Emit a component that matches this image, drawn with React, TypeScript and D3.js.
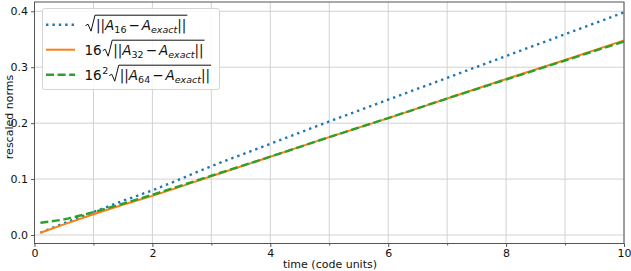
import React, { useEffect, useRef } from 'react';
import * as d3 from 'd3';

// sample times (code units)
const times = [0.1, 0.5, 1, 1.5, 2, 3, 4, 5, 6, 7, 8, 9, 10];
// rescaled norms
const normA16 = [0.004, 0.021, 0.041, 0.061, 0.080, 0.123, 0.163, 0.203, 0.242, 0.281, 0.320, 0.359, 0.398];
const normA32 = [0.004, 0.019, 0.037, 0.054, 0.070, 0.105, 0.140, 0.175, 0.209, 0.244, 0.279, 0.313, 0.348];
const normA64 = [0.022, 0.028, 0.041, 0.056, 0.072, 0.106, 0.140, 0.175, 0.209, 0.244, 0.278, 0.312, 0.346];

const xTicks = [0, 2, 4, 6, 8, 10];
const xMinorTicks = [1, 3, 5, 7, 9];
const yTicks = [0, 0.1, 0.2, 0.3, 0.4];

const series = [
  { key: 'A16', prefix: '', sup: '', sub: '16', values: normA16, color: '#1f77b4', dash: '2.4 4' },
  { key: 'A32', prefix: '16', sup: '', sub: '32', values: normA32, color: '#ff7f0e', dash: '' },
  { key: 'A64', prefix: '16', sup: '2', sub: '64', values: normA64, color: '#2ca02c', dash: '8 3.6' },
];

const FONT = "'DejaVu Sans', sans-serif";

const App: React.FC = () => {
  const svgRef = useRef<SVGSVGElement>(null);

  useEffect(() => {
    if (!svgRef.current) return;
    const svg = d3.select(svgRef.current);
    svg.selectAll('*').remove();

    const left = 34.5, right = 624, top = 2, bottom = 243.5;
    const x = d3.scaleLinear().domain([0, 10]).range([left, right]);
    const y = d3.scaleLinear().domain([-0.0152, 0.4166]).range([bottom, top]);

    // grid
    const grid = svg.append('g');
    grid.selectAll('line.v')
      .data([...xTicks, ...xMinorTicks])
      .enter().append('line')
      .attr('x1', d => x(d)).attr('x2', d => x(d))
      .attr('y1', top).attr('y2', bottom)
      .attr('stroke', '#d2d2d2').attr('stroke-width', 1);
    grid.selectAll('line.h')
      .data(yTicks)
      .enter().append('line')
      .attr('x1', left).attr('x2', right)
      .attr('y1', d => y(d)).attr('y2', d => y(d))
      .attr('stroke', '#d2d2d2').attr('stroke-width', 1);

    // lines
    const line = d3.line<number>()
      .x((_, i) => x(times[i]))
      .y(d => y(d))
      .curve(d3.curveMonotoneX);

    series.forEach(s => {
      svg.append('path')
        .datum(s.values)
        .attr('d', line)
        .attr('fill', 'none')
        .attr('stroke', s.color)
        .attr('stroke-width', s.dash === '' ? 2 : 2.4)
        .attr('stroke-dasharray', s.dash || null);
    });

    // spines
    svg.append('rect')
      .attr('x', left).attr('y', top)
      .attr('width', right - left).attr('height', bottom - top)
      .attr('fill', 'none').attr('stroke', '#555').attr('stroke-width', 1);

    // x axis
    const xAxis = svg.append('g')
      .attr('transform', `translate(0,${bottom})`)
      .call(d3.axisBottom(x).tickValues(xTicks).tickSize(3.5).tickPadding(2.5).tickFormat(d3.format('d')));
    xAxis.select('.domain').remove();
    xAxis.selectAll('line').attr('stroke', '#555');
    xAxis.selectAll('text').style('font-family', FONT).style('font-size', '11px').attr('fill', '#111');
    const xMinor = svg.append('g')
      .attr('transform', `translate(0,${bottom})`)
      .call(d3.axisBottom(x).tickValues(xMinorTicks).tickSize(2).tickFormat(() => ''));
    xMinor.select('.domain').remove();
    xMinor.selectAll('line').attr('stroke', '#555');

    // y axis
    const yAxis = svg.append('g')
      .attr('transform', `translate(${left},0)`)
      .call(d3.axisLeft(y).tickValues(yTicks).tickSize(3.5).tickPadding(3).tickFormat(d3.format('.1f')));
    yAxis.select('.domain').remove();
    yAxis.selectAll('line').attr('stroke', '#555');
    yAxis.selectAll('text').style('font-family', FONT).style('font-size', '11px').attr('fill', '#111');

    // axis labels
    svg.append('text')
      .attr('x', 330).attr('y', 267.5)
      .attr('text-anchor', 'middle')
      .style('font-family', FONT).style('font-size', '11px').attr('fill', '#111')
      .text('time (code units)');
    svg.append('text')
      .attr('transform', `translate(12.5,117) rotate(-90)`)
      .attr('text-anchor', 'middle')
      .style('font-family', FONT).style('font-size', '11px').attr('fill', '#111')
      .text('rescaled norms');

    // legend
    const legend = svg.append('g');
    legend.append('rect')
      .attr('x', 42.5).attr('y', 8.5).attr('width', 177).attr('height', 81)
      .attr('rx', 2)
      .attr('fill', 'white').attr('fill-opacity', 0.85)
      .attr('stroke', '#d5d5d5');

    series.forEach((s, i) => {
      const cy = 24.7 + i * 25;
      legend.append('line')
        .attr('x1', 46).attr('x2', 75).attr('y1', cy).attr('y2', cy)
        .attr('stroke', s.color)
        .attr('stroke-width', s.dash === '' ? 2 : 2.4)
        .attr('stroke-dasharray', s.dash || null);

      const base = cy + 5;
      let cx = 84.5;
      const g = legend.append('g').style('font-family', FONT).attr('fill', '#111');
      if (s.prefix) {
        const t = g.append('text').attr('x', cx).attr('y', base).style('font-size', '13.5px').text(s.prefix);
        cx += (t.node() as SVGTextElement).getComputedTextLength();
        if (s.sup) {
          const sp = g.append('text').attr('x', cx + 0.5).attr('y', base - 6).style('font-size', '9.5px').text(s.sup);
          cx += (sp.node() as SVGTextElement).getComputedTextLength() + 0.5;
        }
      }
      // radical sign
      const rx0 = cx + 1;
      const topY = cy - 9.5;
      const content = g.append('text').attr('x', rx0 + 10.5).attr('y', base).style('font-size', '13.5px');
      content.append('tspan').text('||');
      content.append('tspan').style('font-style', 'italic').text('A');
      content.append('tspan').attr('dy', 3).style('font-size', '9.5px').text(s.sub);
      content.append('tspan').attr('dy', -3).attr('dx', 2).text('−');
      content.append('tspan').attr('dx', 2).style('font-style', 'italic').text('A');
      content.append('tspan').attr('dy', 3).style('font-size', '9.5px').style('font-style', 'italic').text('exact');
      content.append('tspan').attr('dy', -3).text('||');
      const w = (content.node() as SVGTextElement).getComputedTextLength() + 4;
      g.append('path')
        .attr('d', `M${rx0},${cy + 1} L${rx0 + 2.5},${cy - 0.5} L${rx0 + 5.5},${base + 1.5} L${rx0 + 9.5},${topY} L${rx0 + 11.5 + w},${topY}`)
        .attr('fill', 'none').attr('stroke', '#111').attr('stroke-width', 1);
    });
  }, []);

  return (
    <svg
      ref={svgRef}
      width={631}
      height={271}
      style={{ position: 'absolute', left: 0, top: 0, background: 'white' }}
    />
  );
};

export default App;
